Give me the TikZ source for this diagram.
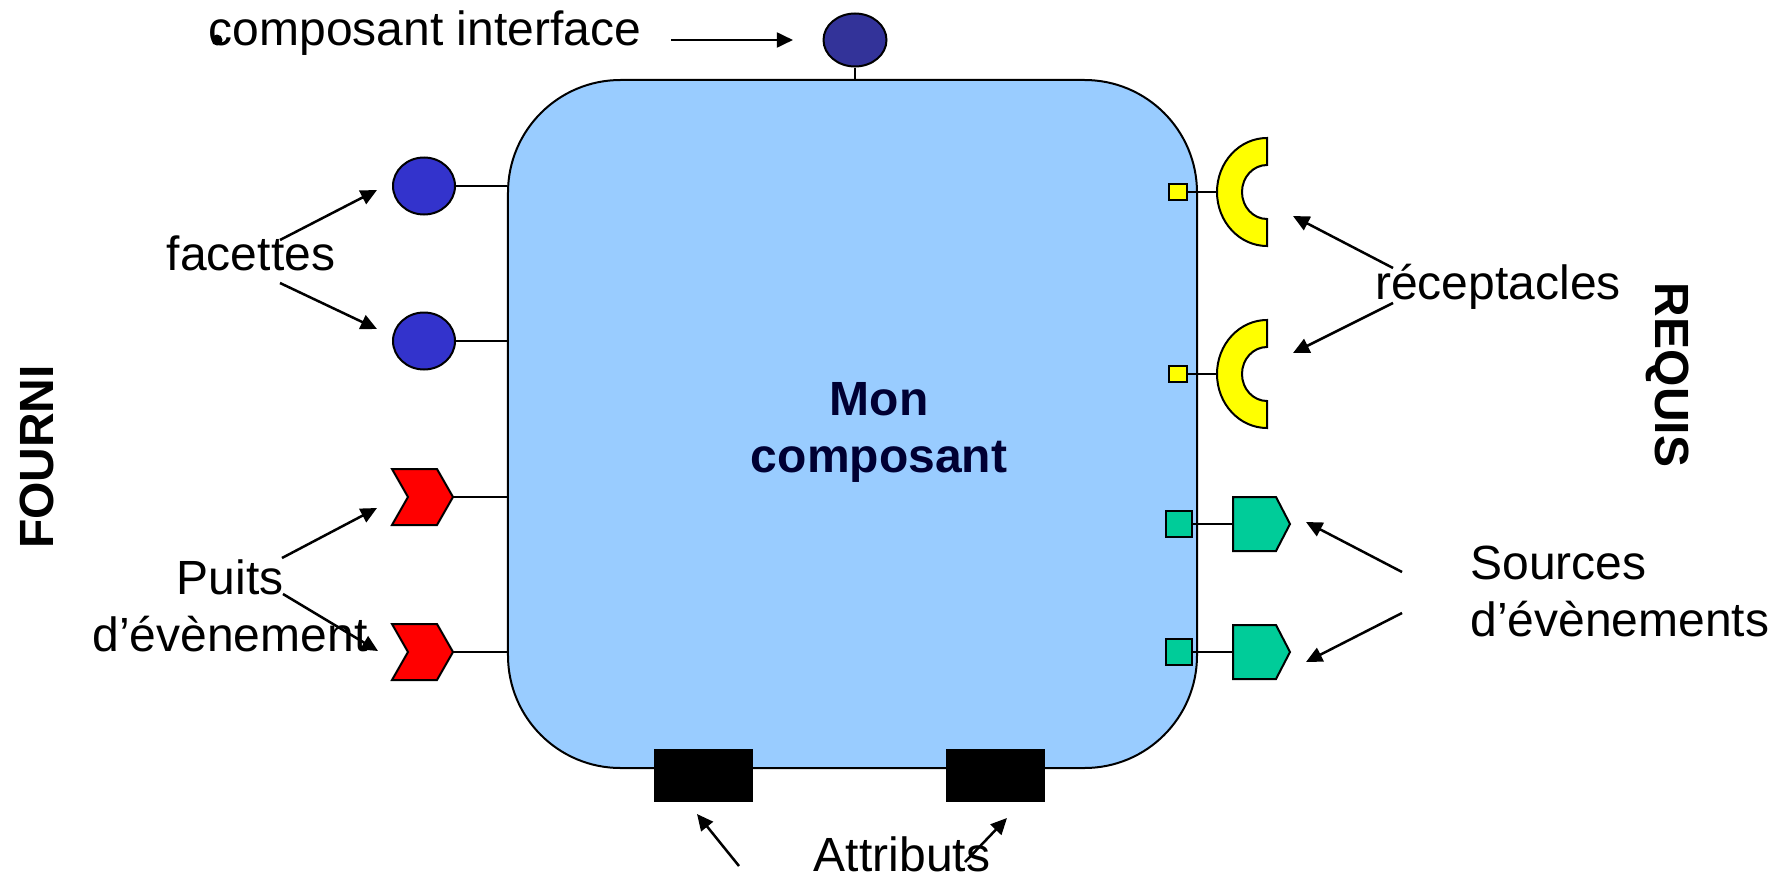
\documentclass[tikz,border=0pt]{standalone}
\usepackage{fontspec}
\setmainfont{Liberation Sans}
\usetikzlibrary{arrows.meta}
\usetikzlibrary{shapes.geometric}

\definecolor{corpsbleu}{RGB}{153,204,255}
\definecolor{facettebleu}{RGB}{51,51,204}
\definecolor{interfacebleu}{RGB}{51,51,153}
\definecolor{puitsrouge}{RGB}{255,0,0}
\definecolor{receptjaune}{RGB}{255,255,0}
\definecolor{sourcevert}{RGB}{0,204,153}
\definecolor{titrebleu}{RGB}{0,0,51}

\tikzset{
  txt/.style={font=\fontsize{19.2}{22.8}\selectfont, inner sep=0pt},
  txtgras/.style={txt, font=\fontsize{19.2}{22.8}\selectfont\bfseries},
  contour/.style={draw=black, line width=0.8pt},
  corps/.style={contour, fill=corpsbleu, rectangle, rounded corners=45pt,
    minimum width=275.6pt, minimum height=275.2pt, inner sep=0pt},
  rond/.style={contour, ellipse, inner sep=0pt},
  carre/.style={contour, rectangle, inner sep=0pt},
  fleche/.style={line width=1pt, -{Triangle[length=6.5pt,width=6pt]}},
  lien/.style={line width=0.8pt}
}

\begin{document}
\begin{tikzpicture}[x=0.4pt,y=0.4pt,yscale=-1,xscale=1]
\useasboundingbox (0,0) rectangle (1781,880);

%Shape: Rounded Rect
\node[corps] (comp) at (852.5,424) {};

% Text Node
\node[txtgras, text=titrebleu, align=center] (nom) at (879,432) {Mon\\composant};

%Shape: Circle (composant interface)
\node[rond, fill=interfacebleu, minimum width=25.2pt, minimum height=21.2pt] (ic) at (855,40) {};
\draw[lien] (ic.south) -- (ic.south |- comp.north);

%Shape: Circle (facettes)
\node[rond, fill=facettebleu, minimum width=24.8pt, minimum height=22.8pt] (fc1) at (424,186) {};
\node[rond, fill=facettebleu, minimum width=24.8pt, minimum height=22.8pt] (fc2) at (424,341) {};
\draw[lien] (fc1.east) -- (fc1.east -| comp.west);
\draw[lien] (fc2.east) -- (fc2.east -| comp.west);

%Shape: Chevron (puits)
\draw[contour, fill=puitsrouge] (392,469) -- (437,469) -- (453,497) -- (437,525) -- (392,525) -- (408,497) -- cycle;
\coordinate (pe1) at (453,497);
\draw[contour, fill=puitsrouge] (392,624) -- (437,624) -- (453,652) -- (437,680) -- (392,680) -- (408,652) -- cycle;
\coordinate (pe2) at (453,652);
\draw[lien] (pe1) -- (pe1 -| comp.west);
\draw[lien] (pe2) -- (pe2 -| comp.west);

%Shape: Half Ring (receptacles)
\draw[contour, fill=receptjaune] (1267,138) arc[start angle=270, end angle=90, x radius=50, y radius=54]
  -- (1267,219) arc[start angle=90, end angle=270, x radius=25, y radius=27] -- cycle;
\coordinate (re1) at (1217,192);
\draw[contour, fill=receptjaune] (1267,320) arc[start angle=270, end angle=90, x radius=50, y radius=54]
  -- (1267,401) arc[start angle=90, end angle=270, x radius=25, y radius=27] -- cycle;
\coordinate (re2) at (1217,374);
\node[carre, fill=receptjaune, minimum width=7.2pt, minimum height=6.4pt] (ry1) at (1178,192) {};
\node[carre, fill=receptjaune, minimum width=7.2pt, minimum height=6.4pt] (ry2) at (1178,374) {};
\draw[lien] (ry1.east) -- (re1);
\draw[lien] (ry2.east) -- (re2);

%Shape: Pentagon (sources)
\draw[contour, fill=sourcevert] (1233,497) -- (1276,497) -- (1290,524) -- (1276,551) -- (1233,551) -- cycle;
\coordinate (so1) at (1233,524);
\draw[contour, fill=sourcevert] (1233,625) -- (1276,625) -- (1290,652) -- (1276,679) -- (1233,679) -- cycle;
\coordinate (so2) at (1233,652);
\node[carre, fill=sourcevert, minimum width=10.4pt, minimum height=10.4pt] (sv1) at (1179,524) {};
\node[carre, fill=sourcevert, minimum width=10.4pt, minimum height=10.4pt] (sv2) at (1179,652) {};
\draw[lien] (sv1.east) -- (so1);
\draw[lien] (sv2.east) -- (so2);

%Shape: Rectangle (attributs)
\node[rectangle, fill=black, minimum width=39.6pt, minimum height=21.2pt, inner sep=0pt] (at1) at (703.5,775.5) {};
\node[rectangle, fill=black, minimum width=39.6pt, minimum height=21.2pt, inner sep=0pt] (at2) at (995.5,775.5) {};

% Text Node
\node[txt, anchor=base] (ci) at (425,46) {composant interface};
\fill (217,40) circle (2.2pt);
\node[txt, anchor=base] (fac) at (251,270) {facettes};
\node[txt, anchor=base, align=center] (pts) at (230,651) {Puits\\d’évènement};
\node[txt, anchor=base] (rec) at (1498,299) {réceptacles};
\node[txt, anchor=base west, align=left] (src) at (1470,636) {Sources\\d’évènements};
\node[txt, anchor=base] (att) at (902,871) {Attributs};
\node[txtgras, rotate=90] (fourni) at (37,457) {FOURNI};
\node[txtgras, rotate=-90] (requis) at (1668,375) {REQUIS};

%Straight Lines (fleches)
\coordinate (ia) at (671,40);  \coordinate (ih) at (793,40);
\coordinate (fa1) at (280,240); \coordinate (fh1) at (377,190);
\coordinate (fa2) at (280,283); \coordinate (fh2) at (377,329);
\coordinate (pa1) at (282,558); \coordinate (ph1) at (377,508);
\coordinate (pa2) at (283,594); \coordinate (ph2) at (378,651);
\coordinate (ra1) at (1393,268); \coordinate (rh1) at (1293,216);
\coordinate (ra2) at (1393,303); \coordinate (rh2) at (1293,353);
\coordinate (sa1) at (1402,572); \coordinate (sh1) at (1306,522);
\coordinate (sa2) at (1402,613); \coordinate (sh2) at (1306,662);
\coordinate (ta1) at (739,866); \coordinate (th1) at (697,814);
\coordinate (ta2) at (965,862); \coordinate (th2) at (1007,818);
\draw[fleche] (ia) -- (ih);
\draw[fleche] (fa1) -- (fh1);
\draw[fleche] (fa2) -- (fh2);
\draw[fleche] (pa1) -- (ph1);
\draw[fleche] (pa2) -- (ph2);
\draw[fleche] (ra1) -- (rh1);
\draw[fleche] (ra2) -- (rh2);
\draw[fleche] (sa1) -- (sh1);
\draw[fleche] (sa2) -- (sh2);
\draw[fleche] (ta1) -- (th1);
\draw[fleche] (ta2) -- (th2);

\end{tikzpicture}
\end{document}
